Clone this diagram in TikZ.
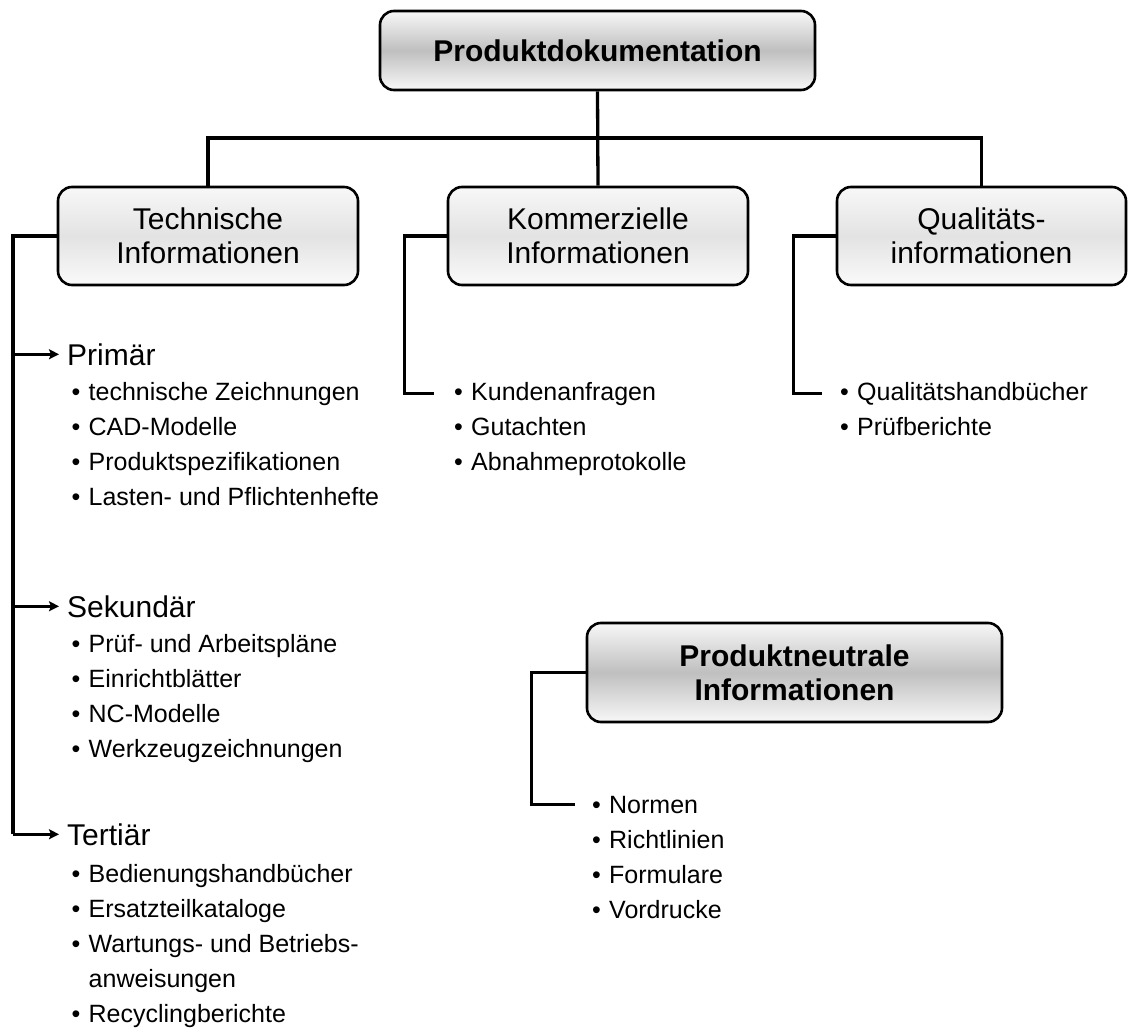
\documentclass[tikz,border=0pt]{standalone}
\usepackage{fontspec}
\setmainfont{Liberation Sans}
\usetikzlibrary{arrows.meta}

\newcommand\bulletitem[1]{\makebox[17pt][l]{\textbullet}#1}

\tikzset{
  box/.style={draw=black, line width=2.6pt, rounded corners=14pt,
    top color=white!97!black, bottom color=white!98!black, middle color=black!11,
    align=center, font=\fontsize{30}{34}\selectfont, inner sep=0pt},
  darkbox/.style={box, top color=white!97!black, bottom color=white!97!black,
    middle color=black!25, font=\fontsize{30}{34}\selectfont\bfseries},
  conn/.style={line width=3.3pt, line join=miter},
  arr/.style={line width=2.6pt, -{Stealth[length=10pt,width=10pt,inset=2pt]}},
  head/.style={anchor=base west, inner sep=0pt, font=\fontsize{30}{34}\selectfont},
  item/.style={anchor=base west, inner sep=0pt, font=\fontsize{25}{35}\selectfont},
}

\begin{document}
\begin{tikzpicture}[x=1pt, y=-1pt]
  \useasboundingbox (0,0) rectangle (1128,1030);

  % boxes
  \node[darkbox, minimum width=435pt, minimum height=79pt] (top) at (597.5,50.5) {Produktdokumentation};
  \node[box, minimum width=300pt, minimum height=98pt] (tech) at (208,236) {Technische\\Informationen};
  \node[box, minimum width=300pt, minimum height=98pt] (komm) at (598,236) {Kommerzielle\\Informationen};
  \node[box, minimum width=289pt, minimum height=98pt] (qual) at (981.5,236) {Qualitäts-\\informationen};
  \node[darkbox, minimum width=415pt, minimum height=99pt] (neut) at (794.5,672.5) {Produktneutrale\\Informationen};

  % tree connectors
  \coordinate (bus) at (598,138);
  \draw[conn] (top.south) -- (komm.north);
  \draw[conn] (tech.north) |- (bus) -| (qual.north);

  % technical information: categories
  \node[head] (prim) at (67,365) {Primär};
  \node[head] (sek) at (67,617) {Sekundär};
  \node[head] (tert) at (67,845) {Tertiär};

  \foreach \t [count=\i] in {technische Zeichnungen, CAD-Modelle, Produktspezifikationen, Lasten- und Pflichtenhefte}
    \node[item] (p\i) at (71.5,{400+35*(\i-1)}) {\bulletitem{\t}};
  \foreach \t [count=\i] in {Prüf- und Arbeitspläne, Einrichtblätter, NC-Modelle, Werkzeugzeichnungen}
    \node[item] (s\i) at (71.5,{652+35*(\i-1)}) {\bulletitem{\t}};
  \node[item] (t1) at (71.5,882) {\bulletitem{Bedienungshandbücher}};
  \node[item] (t2) at (71.5,917) {\bulletitem{Ersatzteilkataloge}};
  \node[item] (t3) at (71.5,952) {\bulletitem{Wartungs- und Betriebs-}};
  \node[item] (t3b) at (88.5,987) {anweisungen};
  \node[item] (t4) at (71.5,1022) {\bulletitem{Recyclingberichte}};

  \coordinate (spine) at (13,835);
  \draw[conn] (tech.west) -| ([yshift=1.3pt]spine);
  \draw[arr] (spine |- prim.west) -- ([xshift=-8pt]prim.west);
  \draw[arr] (spine |- sek.west) -- ([xshift=-8pt]sek.west);
  \draw[arr] (spine |- tert.west) -- ([xshift=-8pt]tert.west);

  % commercial information
  \foreach \t [count=\i] in {Kundenanfragen, Gutachten, Abnahmeprotokolle}
    \node[item] (k\i) at (454,{400+35*(\i-1)}) {\bulletitem{\t}};
  \draw[conn] (komm.west) -- ++(-42,0) |- ([xshift=-20pt]k1.west);

  % quality information
  \foreach \t [count=\i] in {Qualitätshandbücher, Prüfberichte}
    \node[item] (q\i) at (840,{400+35*(\i-1)}) {\bulletitem{\t}};
  \draw[conn] (qual.west) -- ++(-42,0) |- ([xshift=-18pt]q1.west);

  % product-neutral information
  \foreach \t [count=\i] in {Normen, Richtlinien, Formulare, Vordrucke}
    \node[item] (n\i) at (592,{813+35*(\i-1)}) {\bulletitem{\t}};
  \draw[conn] (neut.west) -- ++(-54,0) |- ([xshift=-17pt]n1.west);
\end{tikzpicture}
\end{document}
